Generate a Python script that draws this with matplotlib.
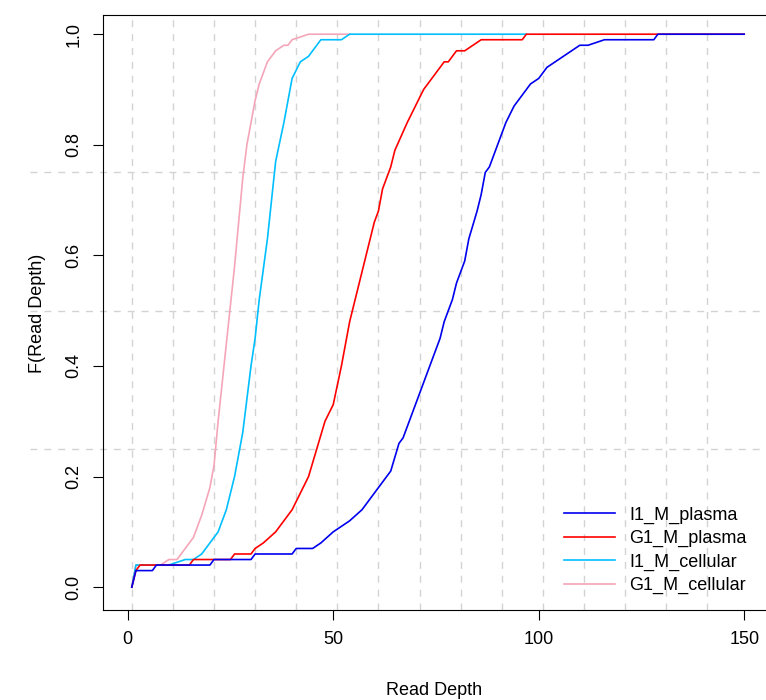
import matplotlib
matplotlib.use("Agg")
import matplotlib.pyplot as plt

plt.rcParams['font.family'] = ['Liberation Sans', 'DejaVu Sans']

i1_plasma_x = [1, 2, 6, 7, 20, 21, 30, 31, 40, 41, 45, 47, 50, 52, 54, 57, 60, 63, 64, 66, 67, 70, 73, 76, 77,
               79, 80, 82, 83, 85, 86, 87, 88, 90, 92, 94, 96, 98, 100, 102, 104, 106, 108, 110, 112, 116,
               128, 129, 150]
i1_plasma_y = [0, 0.03, 0.03, 0.04, 0.04, 0.05, 0.05, 0.06, 0.06, 0.07, 0.07, 0.08, 0.10, 0.11, 0.12, 0.14,
               0.17, 0.20, 0.21, 0.26, 0.27, 0.33, 0.39, 0.45, 0.48, 0.52, 0.55, 0.59, 0.63, 0.68, 0.71, 0.75,
               0.76, 0.80, 0.84, 0.87, 0.89, 0.91, 0.92, 0.94, 0.95, 0.96, 0.97, 0.98, 0.98, 0.99, 0.99, 1.0, 1.0]
g1_plasma_x = [1, 2, 3, 15, 16, 25, 26, 30, 31, 33, 36, 40, 42, 44, 46, 48, 50, 52, 54, 56, 58, 60, 61, 62,
               64, 65, 68, 70, 72, 75, 77, 78, 80, 82, 84, 86, 96, 97, 150]
g1_plasma_y = [0, 0.03, 0.04, 0.04, 0.05, 0.05, 0.06, 0.06, 0.07, 0.08, 0.10, 0.14, 0.17, 0.20, 0.25, 0.30,
               0.33, 0.40, 0.48, 0.54, 0.60, 0.66, 0.68, 0.72, 0.76, 0.79, 0.84, 0.87, 0.90, 0.93, 0.95, 0.95,
               0.97, 0.97, 0.98, 0.99, 0.99, 1.0, 1.0]
i1_cell_x = [1, 2, 10, 14, 16, 18, 20, 22, 24, 26, 28, 30, 31, 32, 34, 35, 36, 38, 39, 40, 42, 44, 46, 47,
             52, 54, 97]
i1_cell_y = [0, 0.04, 0.04, 0.05, 0.05, 0.06, 0.08, 0.10, 0.14, 0.20, 0.28, 0.40, 0.45, 0.52, 0.63, 0.70,
             0.77, 0.84, 0.88, 0.92, 0.95, 0.96, 0.98, 0.99, 0.99, 1.0, 1.0]
g1_cell_x = [1, 2, 8, 10, 12, 14, 16, 18, 20, 21, 22, 24, 26, 28, 29, 31, 32, 34, 36, 38, 39, 40, 44, 54]
g1_cell_y = [0, 0.04, 0.04, 0.05, 0.05, 0.07, 0.09, 0.13, 0.18, 0.22, 0.30, 0.44, 0.58, 0.74, 0.80, 0.88,
             0.91, 0.95, 0.97, 0.98, 0.98, 0.99, 1.0, 1.0]

fig = plt.figure(figsize=(7.66, 7.0), dpi=100)
ax = fig.add_axes([0.1345, 0.128, 0.8655, 0.85])

for gx in range(1, 151, 10):
    ax.axvline(gx, color='#d3d3d3', ls=(0, (5, 5)), lw=1, zorder=0)
for gy in [0.25, 0.5, 0.75]:
    ax.axhline(gy, xmin=-0.11, xmax=1, color='#d3d3d3', ls=(0, (5, 5)), lw=1, zorder=0, clip_on=False)

ax.plot(g1_cell_x, g1_cell_y, color='#f4a6b8', lw=1.2, label='G1_M_cellular')
ax.plot(i1_cell_x, i1_cell_y, color='#00bfff', lw=1.2, label='I1_M_cellular')
ax.plot(g1_plasma_x, g1_plasma_y, color='red', lw=1.2, label='G1_M_plasma')
ax.plot(i1_plasma_x, i1_plasma_y, color='#0000ee', lw=1.2, label='I1_M_plasma')

ax.set_xlim(-6, 155.3)
ax.set_ylim(-0.042, 1.034)
ax.set_xticks([0, 50, 100, 150])
ax.set_yticks([0, 0.2, 0.4, 0.6, 0.8, 1.0])
ax.set_yticklabels(['0.0', '0.2', '0.4', '0.6', '0.8', '1.0'], rotation=90, va='center')
ax.tick_params(labelsize=13, length=7, pad=8)
ax.set_xlabel('Read Depth', fontsize=13, labelpad=24)
ax.set_ylabel('F(Read Depth)', fontsize=13, labelpad=14)
ax.spines['right'].set_visible(False)

h, l = ax.get_legend_handles_labels()
ax.legend(h[::-1], l[::-1], loc='lower right', bbox_to_anchor=(0.995, 0.0), frameon=False,
          fontsize=13, handlelength=2.8, labelspacing=0.35)

fig.savefig('out.png', dpi=100)
